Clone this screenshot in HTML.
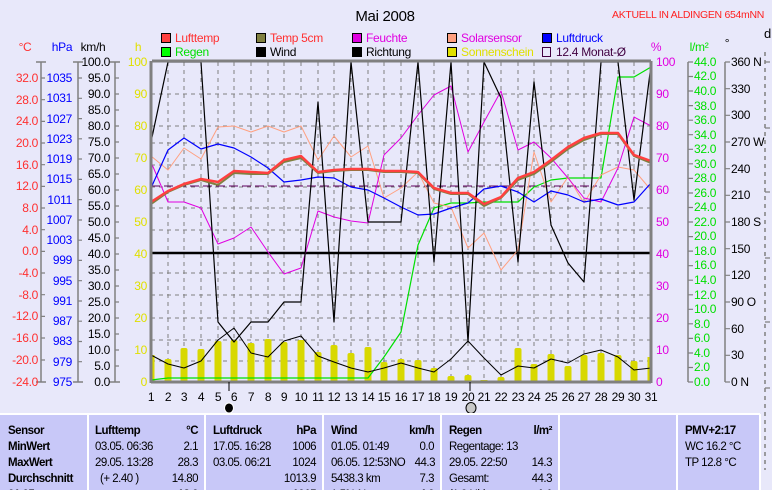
<!DOCTYPE html>
<html><head><meta charset="utf-8"><style>
body{margin:0;background:#e8e8fa;}
svg{display:block;font-family:"Liberation Sans",sans-serif;letter-spacing:-0.3px;}
</style></head><body>
<svg width="772" height="490" viewBox="0 0 772 490" xmlns="http://www.w3.org/2000/svg">
<rect width="772" height="490" fill="#e8e8fa"/>
<text x="385" y="21" font-size="15" text-anchor="middle" fill="#000">Mai 2008</text>
<text x="612" y="18" font-size="10.5" fill="#ff2020" textLength="152" lengthAdjust="spacingAndGlyphs">AKTUELL IN ALDINGEN 654mNN</text>
<text x="764" y="38" font-size="13" fill="#000">d</text>
<!-- legend -->
<g font-size="12">
<rect x="161.5" y="33.5" width="9" height="9" fill="#ff4040" stroke="#000"/><text x="175" y="42" fill="#ff3030">Lufttemp</text>
<rect x="256.5" y="33.5" width="9" height="9" fill="#808040" stroke="#000"/><text x="270" y="42" fill="#ff3030">Temp 5cm</text>
<rect x="352.5" y="33.5" width="9" height="9" fill="#e000e0" stroke="#000"/><text x="366" y="42" fill="#e000e0">Feuchte</text>
<rect x="447.5" y="33.5" width="9" height="9" fill="#ffa080" stroke="#000"/><text x="461" y="42" fill="#e000e0">Solarsensor</text>
<rect x="542.5" y="33.5" width="9" height="9" fill="#0000ff" stroke="#000"/><text x="556" y="42" fill="#0000ff">Luftdruck</text>
<rect x="161.5" y="47.5" width="9" height="9" fill="#00ff00" stroke="#000"/><text x="175" y="56" fill="#00e000">Regen</text>
<rect x="256.5" y="47.5" width="9" height="9" fill="#000" stroke="#000"/><text x="270" y="56" fill="#000">Wind</text>
<rect x="352.5" y="47.5" width="9" height="9" fill="#000" stroke="#000"/><text x="366" y="56" fill="#000">Richtung</text>
<rect x="447.5" y="47.5" width="9" height="9" fill="#e0e000" stroke="#000"/><text x="461" y="56" fill="#e0e000">Sonnenschein</text>
<rect x="542.5" y="47.5" width="8" height="9" fill="none" stroke="#400040"/><text x="556" y="56" fill="#400040">12.4 Monat-Ø</text>
</g>
<!-- unit headers -->
<g font-size="12" text-anchor="middle">
<text x="25" y="51" fill="#ff3030">°C</text>
<text x="62" y="51" fill="#0000ff">hPa</text>
<text x="93" y="51" fill="#000">km/h</text>
<text x="138" y="51" fill="#e0e000">h</text>
<text x="656" y="51" fill="#e000e0">%</text>
<text x="699" y="51" fill="#00e000">l/m²</text>
<text x="727" y="47" fill="#000">°</text>
</g>
<!-- left axes -->
<g stroke="#808080" stroke-width="1.5">
<line x1="41" y1="62" x2="41" y2="382"/><line x1="36" y1="62" x2="46" y2="62"/><line x1="36" y1="382" x2="46" y2="382"/>
<line x1="78" y1="62" x2="78" y2="382"/><line x1="73" y1="62" x2="83" y2="62"/><line x1="73" y1="382" x2="83" y2="382"/>
<line x1="115" y1="62" x2="115" y2="382"/><line x1="110" y1="62" x2="120" y2="62"/><line x1="110" y1="382" x2="120" y2="382"/>
<line x1="688" y1="62" x2="688" y2="382"/><line x1="725" y1="62" x2="725" y2="382"/>
<line x1="765" y1="52" x2="765" y2="470" stroke-dasharray="4,4"/>
</g>
<g stroke="#808080" stroke-width="1.2">
<path d="M41 78h4M41 99.7h4M41 121.4h4M41 143h4M41 164.7h4M41 186.4h4M41 208h4M41 229.7h4M41 251.4h4M41 273h4M41 294.7h4M41 316.4h4M41 338h4M41 360h4"/>
<path d="M78 78h4M78 98.3h4M78 118.6h4M78 138.8h4M78 159h4M78 179.4h4M78 199.6h4M78 220h4M78 240.2h4M78 260.4h4M78 280.7h4M78 301h4M78 321.2h4M78 341.5h4M78 361.7h4"/>
<path d="M115 78h4M115 94h4M115 110h4M115 126h4M115 142h4M115 158h4M115 174h4M115 190h4M115 206h4M115 222h4M115 238h4M115 254h4M115 270h4M115 286h4M115 302h4M115 318h4M115 334h4M115 350h4M115 366h4"/>
<path d="M688 62h5M688 76.5h5M688 91h5M688 105.6h5M688 120.2h5M688 134.7h5M688 149.3h5M688 163.8h5M688 178.4h5M688 193h5M688 207.5h5M688 222h5M688 236.6h5M688 251.1h5M688 265.7h5M688 280.2h5M688 294.8h5M688 309.3h5M688 323.8h5M688 338.4h5M688 353h5M688 367.5h5M688 382h5"/>
<path d="M725 62h5M725 88.7h5M725 115.3h5M725 142h5M725 168.7h5M725 195.3h5M725 222h5M725 248.7h5M725 275.3h5M725 302h5M725 328.7h5M725 355.3h5M725 382h5"/>
<path d="M765 62h5M765 128h5M765 192h5M765 258h5M765 322h5M765 388h5"/>
</g>
<g font-size="12" text-anchor="end" fill="#ff3030">
<text x="38" y="82">32.0</text><text x="38" y="104">28.0</text><text x="38" y="125">24.0</text><text x="38" y="147">20.0</text><text x="38" y="169">16.0</text><text x="38" y="190">12.0</text><text x="38" y="212">8.0</text><text x="38" y="234">4.0</text><text x="38" y="255">0.0</text><text x="38" y="277">-4.0</text><text x="38" y="299">-8.0</text><text x="38" y="320">-12.0</text><text x="38" y="342">-16.0</text><text x="38" y="364">-20.0</text><text x="38" y="386">-24.0</text>
</g>
<g font-size="12" text-anchor="end" fill="#0000ff">
<text x="72" y="82">1035</text><text x="72" y="102">1031</text><text x="72" y="123">1027</text><text x="72" y="143">1023</text><text x="72" y="163">1019</text><text x="72" y="183">1015</text><text x="72" y="204">1011</text><text x="72" y="224">1007</text><text x="72" y="244">1003</text><text x="72" y="264">999</text><text x="72" y="285">995</text><text x="72" y="305">991</text><text x="72" y="325">987</text><text x="72" y="345">983</text><text x="72" y="366">979</text><text x="72" y="386">975</text>
</g>
<g font-size="12" text-anchor="end" fill="#000">
<text x="110" y="66">100.0</text><text x="110" y="82">95.0</text><text x="110" y="98">90.0</text><text x="110" y="114">85.0</text><text x="110" y="130">80.0</text><text x="110" y="146">75.0</text><text x="110" y="162">70.0</text><text x="110" y="178">65.0</text><text x="110" y="194">60.0</text><text x="110" y="210">55.0</text><text x="110" y="226">50.0</text><text x="110" y="242">45.0</text><text x="110" y="258">40.0</text><text x="110" y="274">35.0</text><text x="110" y="290">30.0</text><text x="110" y="306">25.0</text><text x="110" y="322">20.0</text><text x="110" y="338">15.0</text><text x="110" y="354">10.0</text><text x="110" y="370">5.0</text><text x="110" y="386">0.0</text>
</g>
<g font-size="12" text-anchor="end" fill="#e0e000">
<text x="147" y="66">100</text><text x="147" y="98">90</text><text x="147" y="130">80</text><text x="147" y="162">70</text><text x="147" y="194">60</text><text x="147" y="226">50</text><text x="147" y="258">40</text><text x="147" y="290">30</text><text x="147" y="322">20</text><text x="147" y="354">10</text><text x="147" y="386">0</text>
</g>
<g font-size="12" fill="#e000e0">
<text x="656" y="66">100</text><text x="656" y="98">90</text><text x="656" y="130">80</text><text x="656" y="162">70</text><text x="656" y="194">60</text><text x="656" y="226">50</text><text x="656" y="258">40</text><text x="656" y="290">30</text><text x="656" y="322">20</text><text x="656" y="354">10</text><text x="656" y="386">0</text>
</g>
<g font-size="12" fill="#00e000">
<text x="694" y="66">44.0</text><text x="694" y="80">42.0</text><text x="694" y="95">40.0</text><text x="694" y="110">38.0</text><text x="694" y="124">36.0</text><text x="694" y="139">34.0</text><text x="694" y="153">32.0</text><text x="694" y="168">30.0</text><text x="694" y="182">28.0</text><text x="694" y="197">26.0</text><text x="694" y="211">24.0</text><text x="694" y="226">22.0</text><text x="694" y="240">20.0</text><text x="694" y="255">18.0</text><text x="694" y="269">16.0</text><text x="694" y="284">14.0</text><text x="694" y="299">12.0</text><text x="694" y="313">10.0</text><text x="694" y="328">8.0</text><text x="694" y="342">6.0</text><text x="694" y="357">4.0</text><text x="694" y="371">2.0</text><text x="694" y="386">0.0</text>
</g>
<g font-size="12" fill="#000">
<text x="731" y="66">360 N</text><text x="731" y="93">330</text><text x="731" y="119">300</text><text x="731" y="146">270 W</text><text x="731" y="173">240</text><text x="731" y="199">210</text><text x="731" y="226">180 S</text><text x="731" y="253">150</text><text x="731" y="279">120</text><text x="731" y="306">90  O</text><text x="731" y="333">60</text><text x="731" y="359">30</text><text x="731" y="386">0    N</text>
</g>
<!-- grid -->
<g stroke="#808080" stroke-width="1" stroke-dasharray="4,4">
<path d="M168 62V382M184 62V382M201 62V382M218 62V382M234 62V382M251 62V382M268 62V382M284 62V382M301 62V382M318 62V382M334 62V382M351 62V382M368 62V382M384 62V382M401 62V382M418 62V382M434 62V382M451 62V382M468 62V382M484 62V382M501 62V382M518 62V382M534 62V382M551 62V382M568 62V382M584 62V382M601 62V382M618 62V382M634 62V382"/>
<path d="M151 94H651M151 126H651M151 143H651M151 165H651M151 187H651M151 208H651M151 230H651M151 273H651M151 295H651M151 318H651M151 340H651M151 361H651"/>
</g>
<!-- bars -->
<g fill="#d8d800">
<rect x="151" y="355" width="3.5" height="27"/>
<rect x="164.5" y="359" width="7" height="23" rx="2"/><rect x="180.5" y="348" width="7" height="34" rx="2"/><rect x="197.5" y="349" width="7" height="33" rx="2"/><rect x="214.5" y="341" width="7" height="41" rx="2"/><rect x="230.5" y="340" width="7" height="42" rx="2"/><rect x="247.5" y="343" width="7" height="39" rx="2"/><rect x="264.5" y="339" width="7" height="43" rx="2"/><rect x="280.5" y="342" width="7" height="40" rx="2"/><rect x="297.5" y="340" width="7" height="42" rx="2"/><rect x="314.5" y="352" width="7" height="30" rx="2"/><rect x="330.5" y="345" width="7" height="37" rx="2"/><rect x="347.5" y="353" width="7" height="29" rx="2"/><rect x="364.5" y="347" width="7" height="35" rx="2"/><rect x="380.5" y="362" width="7" height="20" rx="2"/><rect x="397.5" y="359" width="7" height="23" rx="2"/><rect x="414.5" y="360" width="7" height="22" rx="2"/><rect x="430.5" y="368" width="7" height="14" rx="2"/><rect x="447.5" y="376" width="7" height="6" rx="2"/><rect x="464.5" y="375" width="7" height="7" rx="2"/><rect x="480.5" y="380" width="7" height="2"/><rect x="497.5" y="377" width="7" height="5" rx="2"/><rect x="514.5" y="348" width="7" height="34" rx="2"/><rect x="530.5" y="364" width="7" height="18" rx="2"/><rect x="547.5" y="354" width="7" height="28" rx="2"/><rect x="564.5" y="366" width="7" height="16" rx="2"/><rect x="580.5" y="355" width="7" height="27" rx="2"/><rect x="597.5" y="353" width="7" height="29" rx="2"/><rect x="614.5" y="355" width="7" height="27" rx="2"/><rect x="630.5" y="361" width="7" height="21" rx="2"/><rect x="647.5" y="357" width="3.5" height="25"/>
</g>
<!-- series -->
<g fill="none" stroke-linejoin="round">
<line x1="151" y1="253" x2="651" y2="253" stroke="#000" stroke-width="2.5"/>
<line x1="151" y1="186" x2="597" y2="186" stroke="#600060" stroke-width="1" stroke-dasharray="9,4"/>
<polyline stroke="#00e000" stroke-width="1.2" points="151,380 168,378 184,378 201,378 218,378 234,378 251,378 268,378 284,378 301,378 318,378 334,378 351,378 368,378 384,357 401,332 418,245 434,208 451,203 468,203 484,202 501,202 518,202 534,187 551,180 568,178 584,178 601,178 618,77 634,77 651,67"/>
<polyline stroke="#ffa080" stroke-width="1" points="151,156 168,170 184,148 201,159 218,127 234,126 251,132 268,126 284,132 301,126 318,160 334,136 351,157 368,146 384,198 401,188 418,172 434,203 451,207 468,248 484,233 501,270 518,250 534,152 551,202 568,177 584,203 601,175 618,167 634,170 651,190"/>
<polyline stroke="#e000e0" stroke-width="1" points="151,162 168,202 184,202 201,208 218,244 234,238 251,227 268,252 284,274 301,268 318,211 334,217 351,221 368,223 384,155 401,138 418,115 434,95 451,86 468,152 484,122 501,91 518,150 534,142 551,158 568,178 584,198 601,202 618,168 634,117 651,126"/>
<polyline stroke="#0000ff" stroke-width="1.2" points="151,188 168,150 184,138 201,149 218,144 234,148 251,157 268,168 284,182 301,180 318,177 334,178 351,187 368,190 384,198 401,207 418,215 434,214 451,208 468,203 484,189 501,186 518,192 534,202 551,191 568,195 584,202 601,199 618,205 634,202 651,183"/>
<polyline stroke="#000" stroke-width="1.2" points="151,142 168,62 184,62 201,62 218,322 234,342 251,322 268,322 284,302 301,302 318,102 334,322 351,62 368,222 384,222 401,222 418,62 434,262 451,62 468,342 484,62 501,98 518,262 534,82 551,225 568,263 584,282 601,62 618,62 634,200 651,65"/>
<polyline stroke="#000" stroke-width="1" points="151,355 168,364 184,368 201,361 218,340 234,328 251,353 268,357 284,341 301,336 318,356 334,362 351,368 368,372 384,368 401,363 418,368 434,372 451,359 468,341 484,358 501,375 518,366 534,368 551,359 568,363 584,354 601,350 618,357 634,370 651,368"/>
<polyline stroke="#808040" stroke-width="2" points="151,204 168,192 184,185 201,180 218,185 234,173 251,174 268,174 284,162 301,158 318,173 334,171 351,170 368,170 384,172 401,172 418,173 434,189 451,194 468,194 484,206 501,198 518,180 534,174 551,162 568,149 584,140 601,134 618,134 634,156 651,163"/>
<polyline stroke="#ff4040" stroke-width="2.5" points="151,202 168,191 184,184 201,179 218,182 234,171 251,172 268,173 284,160 301,156 318,172 334,170 351,169 368,169 384,171 401,171 418,172 434,188 451,193 468,193 484,204 501,197 518,178 534,172 551,160 568,147 584,138 601,133 618,133 634,155 651,161"/>
</g>
<!-- plot frame -->
<g stroke="#808080" stroke-width="3" fill="none">
<line x1="152" y1="61" x2="651" y2="61"/>
<line x1="151" y1="61" x2="151" y2="383"/>
<line x1="651" y1="61" x2="651" y2="383"/>
<line x1="151" y1="382" x2="651" y2="382"/>
</g>
<line x1="229" y1="382" x2="229" y2="391" stroke="#000"/>
<line x1="470" y1="382" x2="470" y2="391" stroke="#000"/>
<!-- day labels -->
<g font-size="12" text-anchor="middle" fill="#000">
<text x="151" y="401">1</text><text x="168" y="401">2</text><text x="184" y="401">3</text><text x="201" y="401">4</text><text x="218" y="401">5</text><text x="234" y="401">6</text><text x="251" y="401">7</text><text x="268" y="401">8</text><text x="284" y="401">9</text><text x="301" y="401">10</text><text x="318" y="401">11</text><text x="334" y="401">12</text><text x="351" y="401">13</text><text x="368" y="401">14</text><text x="384" y="401">15</text><text x="401" y="401">16</text><text x="418" y="401">17</text><text x="434" y="401">18</text><text x="451" y="401">19</text><text x="468" y="401">20</text><text x="484" y="401">21</text><text x="501" y="401">22</text><text x="518" y="401">23</text><text x="534" y="401">24</text><text x="551" y="401">25</text><text x="568" y="401">26</text><text x="584" y="401">27</text><text x="601" y="401">28</text><text x="618" y="401">29</text><text x="634" y="401">30</text><text x="651" y="401">31</text>
</g>
<ellipse cx="229" cy="408" rx="4.5" ry="5" fill="#000" stroke="#fff" stroke-width="1"/>
<ellipse cx="471" cy="408" rx="5" ry="5.5" fill="#c8c8c8" stroke="#000" stroke-width="1"/>
<!-- table -->
<rect x="0" y="414" width="760" height="76" fill="#c8c8f8"/>
<g stroke="#fff" stroke-width="2">
<line x1="0" y1="414" x2="760" y2="414"/>
<line x1="88" y1="414" x2="88" y2="490"/><line x1="205" y1="414" x2="205" y2="490"/><line x1="323" y1="414" x2="323" y2="490"/><line x1="441" y1="414" x2="441" y2="490"/><line x1="559" y1="414" x2="559" y2="490"/><line x1="677" y1="414" x2="677" y2="490"/><line x1="760" y1="414" x2="760" y2="490"/>
</g>
<g font-size="11.5" fill="#000" style="letter-spacing:-0.5px">
<g font-weight="bold">
<text x="8" y="434">Sensor</text><text x="8" y="450">MinWert</text><text x="8" y="466">MaxWert</text><text x="8" y="482">Durchschnitt</text><text x="8" y="498">01.05.</text>
<text x="95" y="434">Lufttemp</text><text x="198" y="434" text-anchor="end">°C</text>
<text x="213" y="434">Luftdruck</text><text x="316" y="434" text-anchor="end">hPa</text>
<text x="331" y="434">Wind</text><text x="434" y="434" text-anchor="end">km/h</text>
<text x="449" y="434">Regen</text><text x="552" y="434" text-anchor="end">l/m²</text>
<text x="685" y="434">PMV+2:17</text>
<text x="198" y="498" text-anchor="end">18.0</text><text x="316" y="498" text-anchor="end">1015</text><text x="434" y="498" text-anchor="end">4.0</text><text x="552" y="498" text-anchor="end">1.1</text>
</g>
<text x="95" y="450">03.05.  06:36</text><text x="198" y="450" text-anchor="end">2.1</text>
<text x="95" y="466">29.05.  13:28</text><text x="198" y="466" text-anchor="end">28.3</text>
<text x="100" y="482">(+ 2.40 )</text><text x="198" y="482" text-anchor="end">14.80</text>
<text x="213" y="450">17.05.  16:28</text><text x="316" y="450" text-anchor="end">1006</text>
<text x="213" y="466">03.05.  06:21</text><text x="316" y="466" text-anchor="end">1024</text>
<text x="316" y="482" text-anchor="end">1013.9</text>
<text x="331" y="450">01.05.  01:49</text><text x="434" y="450" text-anchor="end">0.0</text>
<text x="331" y="466">06.05.  12:53NO</text><text x="435" y="466" text-anchor="end">44.3</text>
<text x="331" y="482">5438.3 km</text><text x="434" y="482" text-anchor="end">7.3</text>
<text x="331" y="498">1.5% N</text>
<text x="449" y="450">Regentage: 13</text>
<text x="449" y="466">29.05.  22:50</text><text x="552" y="466" text-anchor="end">14.3</text>
<text x="449" y="482">Gesamt:</text><text x="552" y="482" text-anchor="end">44.3</text>
<text x="449" y="498">(1.0 Uh)</text>
<text x="685" y="450">WC 16.2 °C</text>
<text x="685" y="466">TP 12.8 °C</text>
</g>
</svg>
</body></html>
